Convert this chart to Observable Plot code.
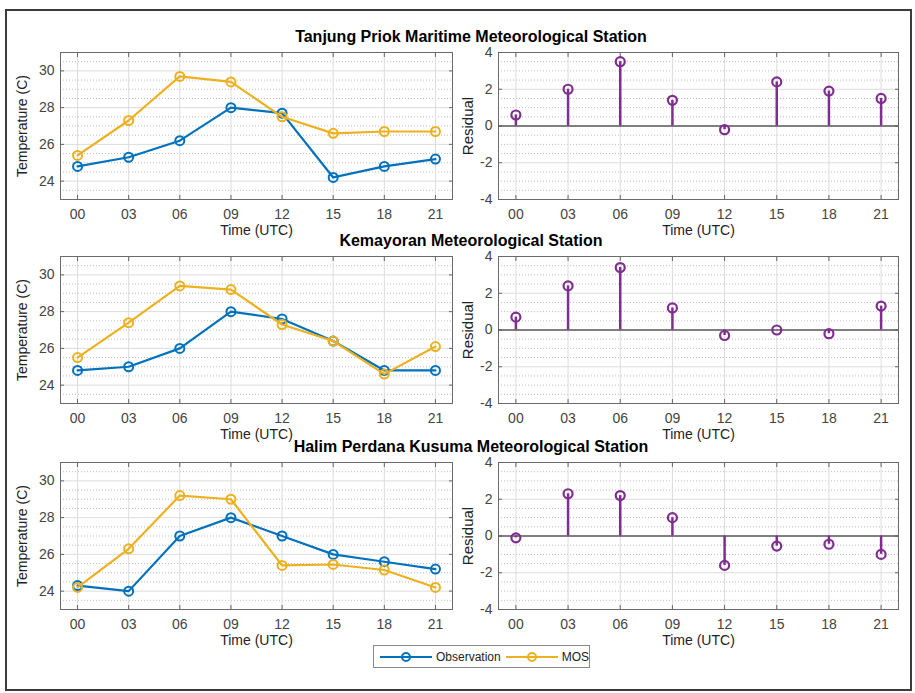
<!DOCTYPE html>
<html>
<head>
<meta charset="utf-8">
<script src="https://cdn.jsdelivr.net/npm/d3@7"></script>
<script src="https://cdn.jsdelivr.net/npm/@observablehq/plot@0.6"></script>
<style>
  body { margin: 0; background: #fff; }
  #fig { position: relative; width: 915px; height: 693px; background: #fff; overflow: hidden;
         font-family: "Liberation Sans", Arial, sans-serif; }
  .border { position: absolute; left: 5px; top: 9px; width: 907px; height: 682px;
            box-sizing: border-box; border: 2px solid #3c3c3c; }
  .title { position: absolute; left: 171px; width: 600px; height: 18px; line-height: 18px;
           text-align: center; font-weight: bold; font-size: 16px; color: #000; }
  .panel { position: absolute; }
  .legend { position: absolute; left: 373px; top: 645px; width: 217px; height: 23px;
            box-sizing: border-box; border: 1px solid #8a8a8a; background: #fff;
            display: flex; align-items: center; padding-left: 6px; font-size: 12px; color: #222; }
  .legend .item { display: flex; align-items: center; margin-right: 5px; }
  .legend svg { margin-right: 4px; }
</style>
</head>
<body>
<div id="fig"><div class="border"></div></div>
<script>
// Forecast hours (UTC) and their axis labels
const hours = [0, 3, 6, 9, 12, 15, 18, 21];
const hourLabels = ["00", "03", "06", "09", "12", "15", "18", "21"];

const stationNames = [
  "Tanjung Priok Maritime Meteorological Station",
  "Kemayoran Meteorological Station",
  "Halim Perdana Kusuma Meteorological Station"
];
const seriesNames = ["Observation", "MOS"];

// Tanjung Priok
const obsTanjungPriok = [24.8, 25.3, 26.2, 28.0, 27.7, 24.2, 24.8, 25.2];
const mosTanjungPriok = [25.4, 27.3, 29.7, 29.4, 27.5, 26.6, 26.7, 26.7];
const resTanjungPriok = [0.6, 2.0, 3.5, 1.4, -0.2, 2.4, 1.9, 1.5];

// Kemayoran
const obsKemayoran = [24.8, 25.0, 26.0, 28.0, 27.6, 26.4, 24.8, 24.8];
const mosKemayoran = [25.5, 27.4, 29.4, 29.2, 27.3, 26.4, 24.6, 26.1];
const resKemayoran = [0.7, 2.4, 3.4, 1.2, -0.3, 0.0, -0.2, 1.3];

// Halim Perdana Kusuma
const obsHalim = [24.3, 24.0, 27.0, 28.0, 27.0, 26.0, 25.6, 25.2];
const mosHalim = [24.2, 26.3, 29.2, 29.0, 25.4, 25.45, 25.15, 24.2];
const resHalim = [-0.1, 2.3, 2.2, 1.0, -1.6, -0.55, -0.45, -1.0];

const tempTicks = [24, 26, 28, 30];
const residualTicks = [-4, -2, 0, 2, 4];

const BLUE = "#0072BD", GOLD = "#EDB120", PURPLE = "#7E2F8E";
const FONT = '"Liberation Sans", Arial, sans-serif';
const fig = d3.select("#fig");

// minor (dotted) grid every 0.5 between the labelled ticks
function minorTicks(lo, hi, major) {
  return d3.range(lo, hi + 0.001, 0.5).filter(v => !major.includes(v));
}

// inward box ticks on all four sides of the frame
function boxTicks(yTicks) {
  const o = {label: null, tickFormat: () => "", color: "#666", tickSize: -4};
  return [
    Plot.axisX(hours, {...o, anchor: "bottom"}),
    Plot.axisX(hours, {...o, anchor: "top"}),
    Plot.axisY(yTicks, {...o, anchor: "left"}),
    Plot.axisY(yTicks, {...o, anchor: "right"})
  ];
}

function common(yDomain, yTicks) {
  return [
    Plot.gridY(minorTicks(yDomain[0], yDomain[1], yTicks), {stroke: "#bdbdbd", strokeOpacity: 1, strokeDasharray: "1,2"}),
    Plot.gridY(yTicks, {stroke: "#dcdcdc", strokeOpacity: 1}),
    Plot.gridX(hours, {stroke: "#dcdcdc", strokeOpacity: 1}),
    Plot.frame({stroke: "#6a6a6a"}),
    ...boxTicks(yTicks),
    Plot.axisX(hours, {anchor: "bottom", tickSize: 0, tickPadding: 10, label: null, fontSize: 14, color: "#444",
      tickFormat: d => hourLabels[hours.indexOf(d)]}),
    Plot.axisY(yTicks, {anchor: "left", tickSize: 0, tickPadding: 6, label: null, fontSize: 14, color: "#444",
      tickFormat: d => String(d)}),
    Plot.text(["Time (UTC)"], {text: d => d, frameAnchor: "bottom", lineAnchor: "middle", dy: 31,
      fontSize: 14, fill: "#222"})
  ];
}

function tempPanel(obs, mos) {
  const rows = hours.map((h, i) => ({hour: h, obs: obs[i], mos: mos[i]}));
  return Plot.plot({
    width: 460, height: 197, marginLeft: 60, marginRight: 8, marginTop: 10, marginBottom: 40,
    style: {background: "transparent", fontFamily: FONT, overflow: "visible"},
    x: {domain: [-1, 22]},
    y: {domain: [23, 31]},
    marks: [
      ...common([23, 31], tempTicks),
      Plot.text(["Temperature (C)"], {text: d => d, frameAnchor: "left", textAnchor: "middle", dx: -38,
        rotate: -90, fontSize: 14, fill: "#222"}),
      Plot.line(rows, {x: "hour", y: "obs", stroke: BLUE, strokeWidth: 2.2}),
      Plot.dot(rows, {x: "hour", y: "obs", r: 4.5, stroke: BLUE, strokeWidth: 2}),
      Plot.line(rows, {x: "hour", y: "mos", stroke: GOLD, strokeWidth: 2.2}),
      Plot.dot(rows, {x: "hour", y: "mos", r: 4.5, stroke: GOLD, strokeWidth: 2})
    ]
  });
}

function residualPanel(res) {
  const rows = hours.map((h, i) => ({hour: h, res: res[i]}));
  return Plot.plot({
    width: 453, height: 197, marginLeft: 43, marginRight: 10, marginTop: 10, marginBottom: 40,
    style: {background: "transparent", fontFamily: FONT, overflow: "visible"},
    x: {domain: [-1, 22]},
    y: {domain: [-4, 4]},
    marks: [
      ...common([-4, 4], residualTicks),
      Plot.text(["Residual"], {text: d => d, frameAnchor: "left", textAnchor: "middle", dx: -30,
        rotate: -90, fontSize: 15, fill: "#222"}),
      Plot.ruleY([0], {stroke: "#5a5a5a", strokeWidth: 1.5}),
      Plot.ruleX(rows, {x: "hour", y1: 0, y2: "res", stroke: PURPLE, strokeWidth: 2.5}),
      Plot.dot(rows, {x: "hour", y: "res", r: 4.5, stroke: PURPLE, strokeWidth: 2.2})
    ]
  });
}

const stations = [
  {obs: obsTanjungPriok, mos: mosTanjungPriok, res: resTanjungPriok},
  {obs: obsKemayoran, mos: mosKemayoran, res: resKemayoran},
  {obs: obsHalim, mos: mosHalim, res: resHalim}
];
const rowTops = [42, 246, 452];
const titleCenters = [37, 241, 447];

stations.forEach((s, i) => {
  fig.append("div").attr("class", "title").style("top", (titleCenters[i] - 9) + "px").text(stationNames[i]);
  const left = tempPanel(s.obs, s.mos);
  const right = residualPanel(s.res);
  fig.append("div").attr("class", "panel").style("left", "0px").style("top", rowTops[i] + "px").node().appendChild(left);
  fig.append("div").attr("class", "panel").style("left", "455px").style("top", rowTops[i] + "px").node().appendChild(right);
});

// legend
const legend = fig.append("div").attr("class", "legend");
[BLUE, GOLD].forEach((c, i) => {
  const item = legend.append("div").attr("class", "item");
  const svg = item.append("svg").attr("width", 52).attr("height", 14);
  svg.append("line").attr("x1", 0).attr("x2", 52).attr("y1", 7).attr("y2", 7).attr("stroke", c).attr("stroke-width", 2);
  svg.append("circle").attr("cx", 26).attr("cy", 7).attr("r", 4).attr("fill", "none").attr("stroke", c).attr("stroke-width", 2);
  item.append("span").text(seriesNames[i]);
});
</script>
</body>
</html>
